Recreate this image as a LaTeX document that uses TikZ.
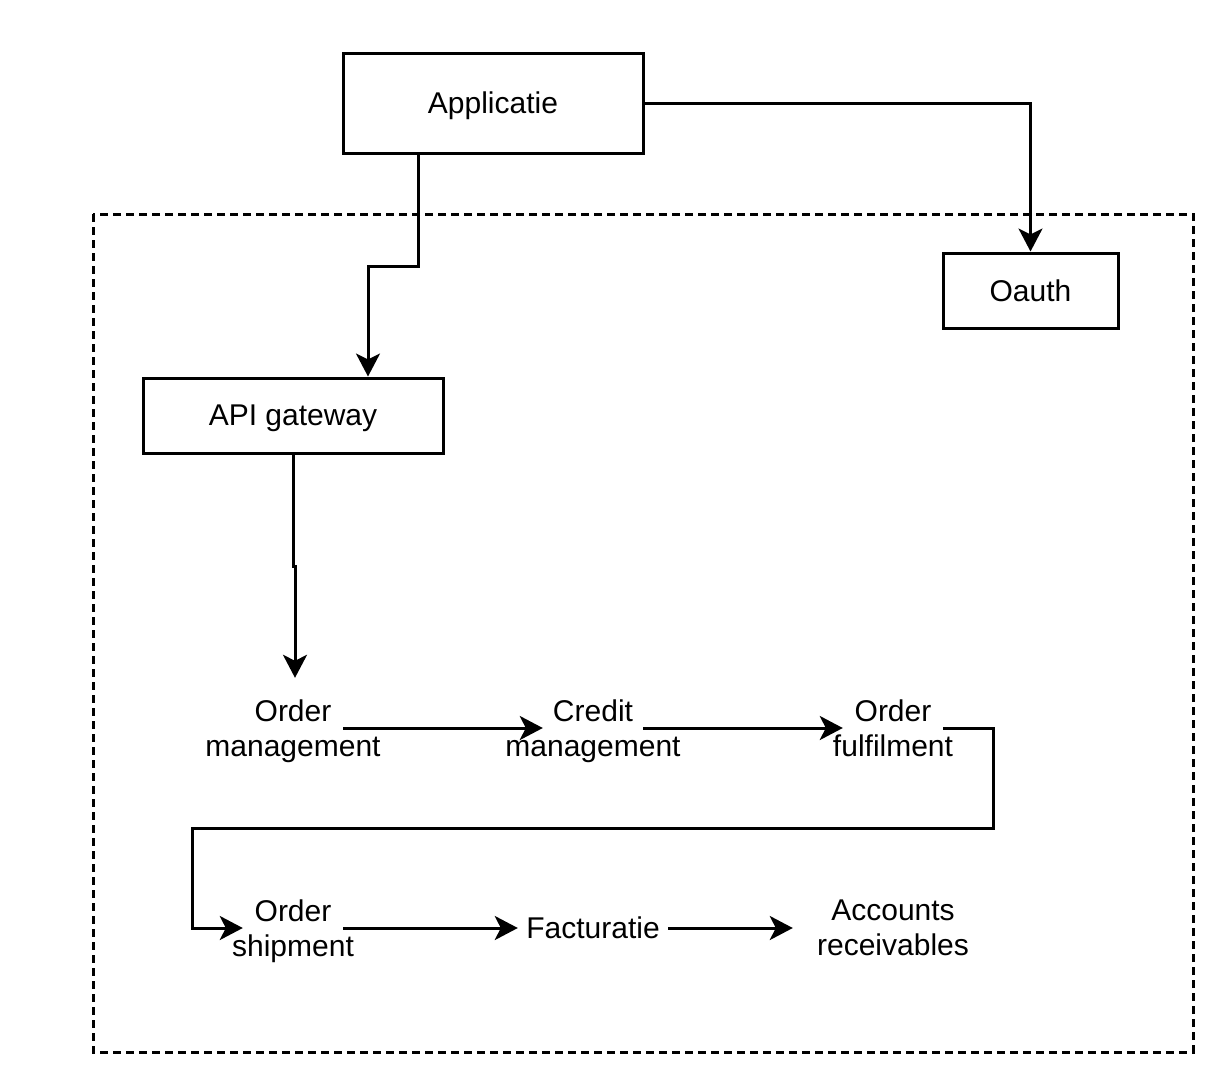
\documentclass[tikz,border=0pt]{standalone}
\usepackage{mathtools}
\usepackage{fontspec}
\setmainfont{Liberation Sans}
\usetikzlibrary{arrows.meta}

\begin{document}
\begin{tikzpicture}[x=1pt,y=-1pt,>={Stealth[length=23pt,width=24pt,inset=6pt]},
	every node/.style={font=\fontsize{30}{35}\selectfont,align=center,inner sep=0pt,text depth=-2pt},
	box/.style n args={2}{draw=black,line width=3pt,minimum width=#1,minimum height=#2},
	proc/.style={minimum width=#1,minimum height=100pt},
	flow/.style={draw=black,line width=3pt,->}]
	\useasboundingbox (0,0) rectangle (1226,1077);
	\draw[black,line width=3pt,dash pattern=on 8pt off 5pt] (93,214) rectangle (1193,1052);
	\node[box={300pt}{100pt}] (app) at (493,103) {Applicatie};
	\node[box={175pt}{75pt}] (oauth) at (1030.5,290.5) {Oauth};
	\node[box={300pt}{75pt}] (api) at (293,415.5) {API gateway};
	\node[proc=100pt] (om) at (293,728) {\clap{Order}\\\clap{management}};
	\node[proc=100pt] (cm) at (593,728) {\clap{Credit}\\\clap{management}};
	\node[proc=100pt] (of) at (893,728) {\clap{Order}\\\clap{fulfilment}};
	\node[proc=100pt] (os) at (293,928) {\clap{Order}\\\clap{shipment}};
	\node[proc=150pt] (fac) at (593,928) {Facturatie};
	\node[proc=200pt] (ar) at (893,928) {Accounts\\receivables};
	\draw[flow] ([xshift=-75pt]app.south) -- ++(0,112) -| ([xshift=75pt]api.north);
	\draw[flow] (app.east) -| (oauth.north);
	\draw[flow] (api.south) -- ++(0,112) -| ([xshift=2pt]om.north);
	\draw[flow] (om.east) -- (cm.west);
	\draw[flow] (cm.east) -- (of.west);
	\draw[flow] (of.east) -- ++(50,0) -- ++(0,100) -| ([xshift=-50pt]os.west) -- (os.west);
	\draw[flow] (os.east) -- (fac.west);
	\draw[flow] (fac.east) -- (ar.west);
\end{tikzpicture}
\end{document}
